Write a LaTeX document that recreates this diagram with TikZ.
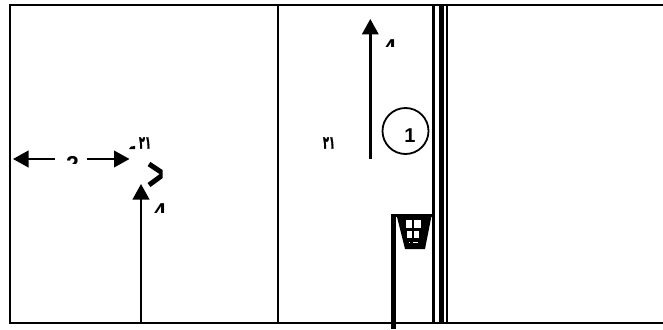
\documentclass[tikz,border=0pt]{standalone}
\usepackage{fontspec}
\setmainfont{Liberation Sans}
\newfontfamily\arabicfont[Script=Arabic,FakeBold=2]{DejaVu Sans}
\usetikzlibrary{arrows.meta}
\tikzset{
  wall/.style={draw=black,line width=2pt},
  road/.style={draw=black,line width=2.2pt},
  flow/.style={draw=black,line width=2.4pt,-{Triangle[length=15.5pt,width=16.5pt]}},
  lab/.style={font=\bfseries\fontsize{23}{23}\selectfont,inner sep=0pt,anchor=north},
  numlab/.style={font=\bfseries\fontsize{20}{20}\selectfont,inner sep=0pt,anchor=north},
  small/.style={font=\arabicfont\bfseries\fontsize{18}{18}\selectfont,inner sep=0pt,xscale=0.55}
}
\begin{document}
\begin{tikzpicture}[x=1pt,y=-1pt]
\useasboundingbox (0,0) rectangle (663,329);
\coordinate (tl) at (10,5); \coordinate (tr) at (663,5);
\coordinate (bl) at (10,323.3); \coordinate (br) at (663,323.3);
\draw[wall,line cap=rect] (tr) -- (tl) -- (bl) -- (br);
\coordinate (m1) at (277.5,5); \coordinate (m2) at (277.5,323);
\draw[wall] (m1) -- (m2);
% median
\coordinate (d1t) at (433.5,5); \coordinate (d1b) at (433.5,323);
\coordinate (d2t) at (441,5); \coordinate (d2b) at (441,323);
\coordinate (d3t) at (446.7,5); \coordinate (d3b) at (446.7,323);
\draw[road] (d1t) -- (d1b);
\draw[draw=black,line width=5pt] (d2t) -- (d2b);
\draw[road] (d3t) -- (d3b);
% arrows
\coordinate (a1s) at (141,323); \coordinate (a1e) at (141,184);
\draw[flow] (a1s) -- (a1e);
\coordinate (a2s) at (370.3,159); \coordinate (a2e) at (370.3,19);
\draw[flow] (a2s) -- (a2e);
\coordinate (w) at (13,159); \coordinate (e) at (129.5,159);
\coordinate (wl) at (55,159); \coordinate (el) at (87,159);
\draw[flow] (wl) -- (w);
\draw[flow] (el) -- (e);
% clipped labels
\begin{scope}
\clip (55,150) rectangle (85,163);
\node[lab] (n2) at (72.5,156) {2};
\end{scope}
\begin{scope}
\clip (150,195) rectangle (166,212);
\node[lab] (n4a) at (160,203) {4};
\end{scope}
\begin{scope}
\clip (378,30) rectangle (400,47);
\node[lab] (n4b) at (390,39) {4};
\end{scope}
% circle
\node[draw=black,line width=1.8pt,circle,minimum size=46pt,inner sep=0pt] (c) at (405.5,131) {};
\node[numlab] (n1) at (410,129) {1};
% small labels
\node[small] (s1) at (329,143) {٢١};
\node[small] (s2) at (145,143) {٢١};
\fill[black] (129,149) -- (131,146.5) -- (135,146) -- (135,149) -- cycle;
% chevron
\begin{scope}
\clip (140,160) rectangle (162.5,190);
\draw[draw=black,line width=5pt] (149,164) -- (164,174) -- (149,185);
\end{scope}
% lamp
\draw[draw=black,line width=5pt] (393.3,328.5) -- (393.3,215.5);
\draw[draw=black,line width=3pt] (391,215.5) -- (431.7,215.5);
\fill[black] (396.5,215) -- (431.7,215) -- (425,249) -- (405,249) -- cycle;
\fill[white] (406,220) rectangle (411.5,228);
\fill[white] (413.5,220) rectangle (421,228);
\fill[white] (407.3,231) rectangle (411.5,237.5);
\fill[white] (413.5,231) rectangle (419,237.5);
\fill[white] (408.5,241.5) rectangle (410,243);
\fill[white] (413,241.5) rectangle (418,242.8);
\end{tikzpicture}
\end{document}
